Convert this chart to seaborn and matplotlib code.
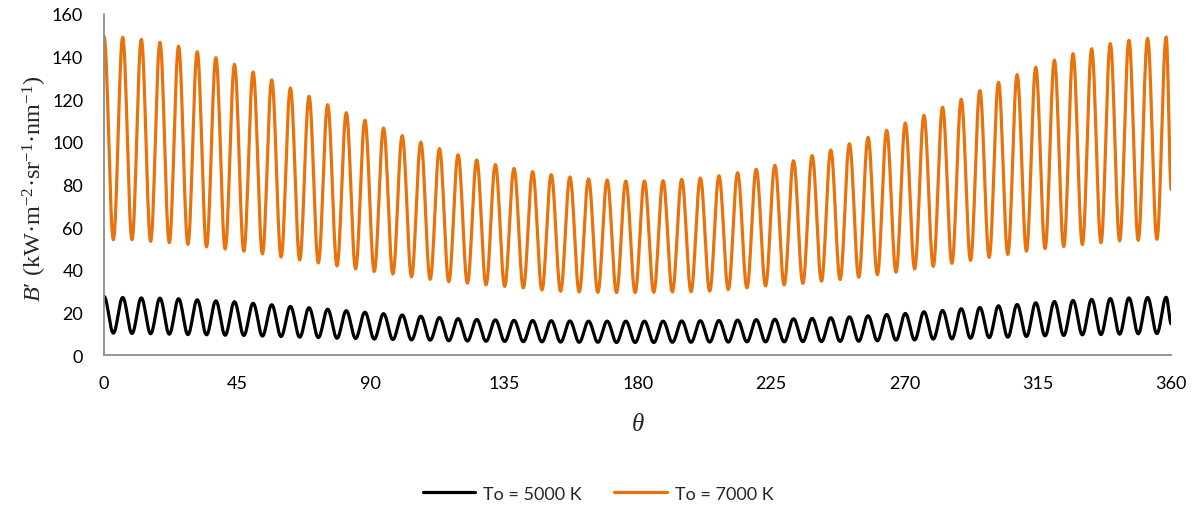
import numpy as np
import pandas as pd
import matplotlib
matplotlib.use("Agg")
import matplotlib.pyplot as plt
import seaborn as sns

# Angles (degrees) of the successive maxima and minima of B'
peak_theta = [0.0, 6.29, 12.57, 18.86, 25.14, 31.43, 37.72, 44.0, 50.29, 56.57,
              62.86, 69.15, 75.43, 81.72, 88.0, 94.29, 100.58, 106.86, 113.15, 119.43,
              125.72, 132.01, 138.29, 144.58, 150.86, 157.15, 163.44, 169.72, 176.01, 182.29,
              188.58, 194.87, 201.15, 207.44, 213.72, 220.01, 226.3, 232.58, 238.87, 245.15,
              251.44, 257.73, 264.01, 270.3, 276.58, 282.87, 289.16, 295.44, 301.73, 308.01,
              314.3, 320.59, 326.87, 333.16, 339.44, 345.73, 352.02, 358.3]
trough_theta = [3.14, 9.43, 15.72, 22.0, 28.29, 34.57, 40.86, 47.15, 53.43, 59.72,
                66.0, 72.29, 78.58, 84.86, 91.15, 97.43, 103.72, 110.01, 116.29, 122.58,
                128.86, 135.15, 141.44, 147.72, 154.01, 160.29, 166.58, 172.87, 179.15, 185.44,
                191.72, 198.01, 204.3, 210.58, 216.87, 223.15, 229.44, 235.73, 242.01, 248.3,
                254.58, 260.87, 267.16, 273.44, 279.73, 286.01, 292.3, 298.59, 304.87, 311.16,
                317.44, 323.73, 330.02, 336.3, 342.59, 348.87, 355.16]
end_theta = 360.0

# To = 5000 K
b5000_peaks = [27.6, 27.1, 26.9, 26.8, 26.5, 26.0, 25.5, 25.1, 24.4, 23.7,
               22.9, 22.3, 21.6, 20.9, 20.2, 19.5, 18.9, 18.3, 17.7, 17.2,
               16.8, 16.6, 16.4, 16.3, 16.2, 16.1, 16.0, 16.0, 16.0, 16.0,
               16.0, 16.1, 16.2, 16.3, 16.5, 16.7, 16.9, 17.1, 17.3, 17.6,
               18.0, 18.5, 19.1, 19.6, 20.4, 21.0, 21.8, 22.4, 23.2, 23.8,
               24.6, 25.2, 25.7, 26.2, 26.6, 26.9, 27.1, 27.2]
b5000_troughs = [10.4, 10.2, 10.1, 9.9, 9.7, 9.6, 9.4, 9.3, 9.0, 8.8,
                 8.5, 8.3, 8.0, 7.9, 7.6, 7.4, 7.2, 7.1, 6.8, 6.7,
                 6.6, 6.5, 6.4, 6.3, 6.2, 6.1, 6.1, 6.0, 6.0, 6.0,
                 6.1, 6.1, 6.2, 6.2, 6.3, 6.3, 6.3, 6.4, 6.4, 6.5,
                 6.6, 6.8, 7.1, 7.2, 7.6, 7.7, 8.0, 8.3, 8.5, 8.8,
                 9.1, 9.3, 9.6, 9.7, 9.9, 10.1, 10.2]
b5000_end = 14.7

# To = 7000 K
b7000_peaks = [149.5, 149.1, 148.1, 146.7, 144.9, 142.3, 139.5, 136.4, 132.8, 129.1,
               125.3, 121.4, 117.5, 113.7, 110.2, 106.5, 103.0, 99.9, 96.9, 94.0,
               91.6, 89.4, 87.6, 86.1, 84.7, 83.6, 82.7, 82.2, 81.7, 81.7,
               81.9, 82.5, 83.1, 84.2, 85.6, 87.2, 89.1, 91.2, 93.6, 96.2,
               99.2, 102.2, 105.4, 108.9, 112.5, 116.3, 120.0, 124.1, 128.0, 131.6,
               135.0, 138.4, 141.4, 143.7, 146.1, 147.7, 148.6, 149.2]
b7000_troughs = [54.2, 54.2, 53.4, 52.8, 52.0, 50.8, 49.8, 48.8, 47.5, 46.1,
                 44.7, 43.3, 41.9, 40.5, 39.3, 38.1, 36.8, 35.6, 34.5, 33.8,
                 33.0, 32.3, 31.6, 30.6, 30.0, 29.7, 29.5, 29.4, 29.4, 29.5,
                 29.7, 29.8, 30.1, 30.8, 31.6, 32.5, 33.0, 33.7, 34.7, 35.5,
                 36.6, 37.8, 38.9, 40.5, 41.7, 43.1, 44.5, 45.9, 47.3, 48.8,
                 50.0, 50.9, 51.9, 52.8, 53.6, 53.9, 54.4]
b7000_end = 77.6

series_labels = ["To = 5000 K", "To = 7000 K"]
series_colors = ["#000000", "#E8720C"]
x_ticks = [0, 45, 90, 135, 180, 225, 270, 315, 360]
y_ticks = [0, 20, 40, 60, 80, 100, 120, 140, 160]


def extrema_sequence(peaks, troughs, end_value):
    """Alternate maxima and minima in angular order, closing with the 360° value."""
    thetas, values = [], []
    for i, (tp, vp) in enumerate(zip(peak_theta, peaks)):
        thetas.append(tp)
        values.append(vp)
        if i < len(troughs):
            thetas.append(trough_theta[i])
            values.append(troughs[i])
    thetas.append(end_theta)
    values.append(end_value)
    return np.array(thetas), np.array(values)


def smooth_swings(thetas, values, samples=16):
    """Each swing between neighbouring extrema is drawn as a half cosine."""
    s = np.linspace(0.0, 1.0, samples, endpoint=False)
    ease = (1.0 - np.cos(np.pi * s)) / 2.0
    xs, ys = [], []
    for t0, t1, v0, v1 in zip(thetas[:-1], thetas[1:], values[:-1], values[1:]):
        xs.append(t0 + (t1 - t0) * s)
        ys.append(v0 + (v1 - v0) * ease)
    xs.append([thetas[-1]])
    ys.append([values[-1]])
    return np.concatenate(xs), np.concatenate(ys)


frames = []
for label, (pk, tr, end) in zip(series_labels,
                                [(b5000_peaks, b5000_troughs, b5000_end),
                                 (b7000_peaks, b7000_troughs, b7000_end)]):
    th, vals = extrema_sequence(pk, tr, end)
    xs, ys = smooth_swings(th, vals)
    frames.append(pd.DataFrame({"theta": xs, "B": ys, "series": label}))
df = pd.concat(frames, ignore_index=True)

sns.set_theme(style="white")
plt.rcParams["font.family"] = ["Lato", "DejaVu Sans"]
plt.rcParams["mathtext.fontset"] = "custom"
plt.rcParams["mathtext.rm"] = "Liberation Serif"
plt.rcParams["mathtext.it"] = "Liberation Serif:italic"

fig = plt.figure(figsize=(11.96, 5.10), dpi=100)
ax = fig.add_axes([0.087, 0.3014, 0.8923, 0.6692])

sns.lineplot(data=df, x="theta", y="B", hue="series", hue_order=series_labels,
             palette=series_colors, linewidth=2.3, estimator=None, sort=False, ax=ax)

ax.set_xlim(0, 360)
ax.set_ylim(0, 160)
ax.set_xticks(x_ticks)
ax.set_yticks(y_ticks)

spine_color = "#8C8C8C"
for side in ["top", "right"]:
    ax.spines[side].set_visible(False)
for side in ["left", "bottom"]:
    ax.spines[side].set_color(spine_color)
    ax.spines[side].set_linewidth(1.3)
ax.tick_params(axis="both", direction="out", length=5, width=1.3, color=spine_color,
               labelsize=13, labelcolor="#000000")
ax.tick_params(axis="x", pad=9)
ax.tick_params(axis="y", pad=10)

ax.set_xlabel(r"$\theta$", fontsize=18, family="Liberation Serif")
ax.xaxis.set_label_coords(0.5, -0.17)
ax.set_ylabel(r"$B$′ (kW·m$^{-2}$·sr$^{-1}$·nm$^{-1}$)", fontsize=17.5,
              family="Liberation Serif")
ax.yaxis.set_label_coords(-0.052, 0.49)

handles, labels = ax.get_legend_handles_labels()
ax.get_legend().remove()
fig.legend(handles, labels, loc="center", bbox_to_anchor=(0.5, 0.03), ncol=2,
           frameon=False, fontsize=13, handlelength=2.9, handletextpad=0.45,
           columnspacing=1.8)

fig.savefig("out.png", dpi=100)
